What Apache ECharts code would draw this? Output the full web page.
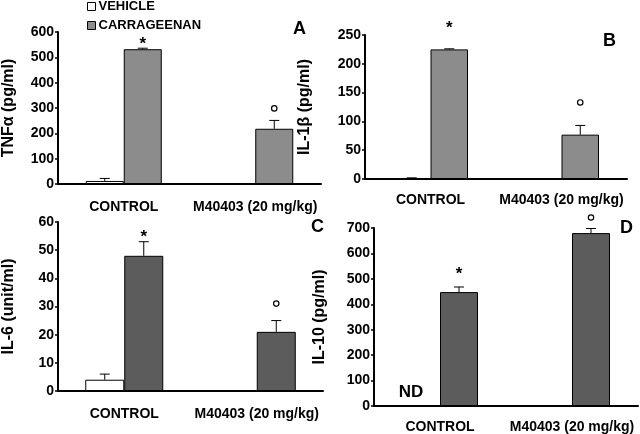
<!DOCTYPE html>
<html><head><meta charset="utf-8">
<script src="https://cdn.jsdelivr.net/npm/echarts@6/dist/echarts.min.js"></script>
<style>html,body{margin:0;padding:0;background:#fff}#c{width:640px;height:434px}</style>
</head><body><div id="c"></div>
<script>
// ---- data ----
const categories = ['CONTROL', 'M40403 (20 mg/kg)'];
const seriesNames = ['VEHICLE', 'CARRAGEENAN'];
// Panel A: TNF-alpha (pg/ml)
const vehA = [12, null], vehErrA = [22, null];
const carA = [532, 218], carErrA = [536, 251];
// Panel B: IL-1beta (pg/ml)
const vehB = [1, null], vehErrB = [2, null];
const carB = [225, 77], carErrB = [226, 93];
// Panel C: IL-6 (unit/ml)
const vehC = [4, null], vehErrC = [6, null];
const carC = [48, 21], carErrC = [53, 25];
// Panel D: IL-10 (pg/ml) ; vehicle not detected
const vehD = [0, null], vehErrD = [null, null];
const carD = [448, 680], carErrD = [468, 698];
const sigMarks = ['*', 'o'];
const yTicksA = {max: 600, interval: 100}, yTicksB = {max: 250, interval: 50};
const yTicksC = {max: 60, interval: 10}, yTicksD = {max: 700, interval: 100};
const yNames = ['TNF\u03b1 (pg/ml)', 'IL-1\u03b2 (pg/ml)', 'IL-6 (unit/ml)', 'IL-10 (pg/ml)'];
const panelLetters = ['A', 'B', 'C', 'D'];

// ---- layout/style ----
const FONT = 'Liberation Sans, Arial, sans-serif';
const panels = [
  {grid:{left:53, top:32, width:268, height:152}, bw:38, color:'#8c8c8c', veh:vehA, vehErr:vehErrA, car:carA, carErr:carErrA, y:yTicksA, nameGap:41, catMargin:16, letter:{x:300,y:30}, sigDy:[8,12]},
  {grid:{left:365, top:35, width:262, height:144}, bw:37.5, color:'#8c8c8c', veh:vehB, vehErr:vehErrB, car:carB, carErr:carErrB, y:yTicksB, nameGap:52, catMargin:14, letter:{x:610,y:42}, sigDy:[25,23]},
  {grid:{left:49, top:222, width:274, height:169}, bw:39, color:'#5c5c5c', veh:vehC, vehErr:vehErrC, car:carC, carErr:carErrC, y:yTicksC, nameGap:41, catMargin:16, letter:{x:318,y:228}, sigDy:[8,17]},
  {grid:{left:374, top:228, width:264, height:178}, bw:38, color:'#5c5c5c', veh:vehD, vehErr:vehErrD, car:carD, carErr:carErrD, y:yTicksD, nameGap:46, catMargin:14, letter:{x:627,y:229}, sigDy:[17,11], nd:true}
];

function errRender(sign, bw) {
  return function (params, api) {
    const x = api.value(0), v = api.value(1), e = api.value(2);
    const p0 = api.coord([x, v]), p1 = api.coord([x, e]);
    const cx = p0[0] + sign * bw / 2;
    return {type:'group', children:[
      {type:'line', shape:{x1:cx, y1:p0[1], x2:cx, y2:p1[1]}, style:{stroke:'#000', lineWidth:1}},
      {type:'line', shape:{x1:cx-5, y1:p1[1], x2:cx+5, y2:p1[1]}, style:{stroke:'#000', lineWidth:1}}
    ]};
  };
}
function sigRender(bw, dys) {
  return function (params, api) {
    const x = api.value(0), e = api.value(1);
    const p = api.coord([x, e]);
    const cx = p[0] + bw / 2;
    const cy = p[1] - dys[x];
    if (sigMarks[x] === 'o') {
      return {type:'circle', shape:{cx:cx, cy:cy, r:2.7}, style:{fill:'#fff', stroke:'#000', lineWidth:1.2}};
    }
    return {type:'text', style:{x:cx, y:cy+4, text:sigMarks[x], align:'center', verticalAlign:'middle', font:'bold 17px ' + FONT, fill:'#000'}};
  };
}

const option = {
  backgroundColor:'#fff',
  animation:false,
  legend:{
    data:[{name:'VEHICLE', itemStyle:{color:'#fff', borderColor:'#000', borderWidth:1}},
          {name:'CARRAGEENAN', itemStyle:{color:'#8c8c8c', borderColor:'#000', borderWidth:1}}],
    orient:'vertical', left:82, top:-5, itemWidth:8, itemHeight:8, itemGap:6, icon:'rect',
    selectedMode:false,
    textStyle:{fontFamily:FONT, fontWeight:'bold', fontSize:13, color:'#000', padding:[0,0,0,-2]}
  },
  grid:[], xAxis:[], yAxis:[], series:[], graphic:[]
};

panels.forEach((p, i) => {
  option.grid.push(Object.assign({containLabel:false}, p.grid));
  option.xAxis.push({type:'category', gridIndex:i, data:categories,
    axisLine:{lineStyle:{color:'#000', width:2}}, axisTick:{show:false},
    axisLabel:{interval:0, color:'#000', fontFamily:FONT, fontWeight:'bold', fontSize:14, margin:p.catMargin}});
  option.yAxis.push({type:'value', gridIndex:i, min:0, max:p.y.max, interval:p.y.interval,
    name:yNames[i], nameLocation:'middle', nameGap:p.nameGap,
    nameTextStyle:{color:'#000', fontFamily:FONT, fontWeight:'bold', fontSize:16},
    axisLine:{show:true, lineStyle:{color:'#000', width:2}},
    axisTick:{show:true, length:3, lineStyle:{color:'#000', width:1.5}},
    splitLine:{show:false},
    axisLabel:{color:'#000', fontFamily:FONT, fontWeight:'bold', fontSize:14, margin:4}});
  const vehData = p.veh.map((v, k) => {
    if (v === null) return '-';
    if (p.nd && k === 0) return {value:v, itemStyle:{borderWidth:0}, label:{show:true, formatter:'ND', position:'top', distance:5, offset:[-10,0], fontFamily:FONT, fontWeight:'bold', fontSize:17, color:'#000'}};
    return v;
  });
  option.series.push({type:'bar', name:seriesNames[0], xAxisIndex:i, yAxisIndex:i, data:vehData,
    barWidth:p.bw, barGap:'0%', itemStyle:{color:'#fff', borderColor:'#000', borderWidth:1}});
  option.series.push({type:'bar', name:seriesNames[1], xAxisIndex:i, yAxisIndex:i, data:p.car,
    barWidth:p.bw, barGap:'0%', itemStyle:{color:p.color, borderColor:'#000', borderWidth:1}});
  const vErr = [], cErr = [], sig = [];
  p.veh.forEach((v, k) => { if (v !== null && p.vehErr[k] !== null) vErr.push([k, v, p.vehErr[k]]); });
  p.car.forEach((v, k) => { if (v !== null) { cErr.push([k, v, p.carErr[k]]); sig.push([k, p.carErr[k]]); } });
  option.series.push({type:'custom', xAxisIndex:i, yAxisIndex:i, renderItem:errRender(-1, p.bw), data:vErr, encode:{x:0, y:[1,2]}, z:5, silent:true});
  option.series.push({type:'custom', xAxisIndex:i, yAxisIndex:i, renderItem:errRender(1, p.bw), data:cErr, encode:{x:0, y:[1,2]}, z:5, silent:true});
  option.series.push({type:'custom', xAxisIndex:i, yAxisIndex:i, renderItem:sigRender(p.bw, p.sigDy), data:sig, encode:{x:0, y:1}, z:6, silent:true});
  option.graphic.push({type:'text', left:p.letter.x - 7, top:p.letter.y - 10,
    style:{text:panelLetters[i], font:'bold 18px ' + FONT, fill:'#000'}});
});

const chart = echarts.init(document.getElementById('c'), null, {renderer:'canvas'});
chart.setOption(option);
</script>
</body></html>
